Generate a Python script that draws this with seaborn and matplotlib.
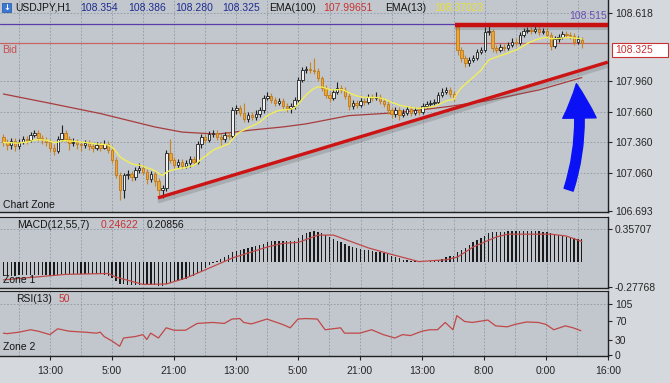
import matplotlib
matplotlib.use('Agg')
import matplotlib.pyplot as plt
import matplotlib.patches as mpatches
import seaborn as sns
import numpy as np
import pandas as pd

# USDJPY H1 candles
opens = [107.41, 107.36, 107.33, 107.37, 107.32, 107.36, 107.39, 107.38, 107.43, 107.45,
         107.40, 107.38, 107.36, 107.31, 107.28, 107.39, 107.45, 107.39, 107.35, 107.36,
         107.34, 107.33, 107.35, 107.32, 107.31, 107.33, 107.31, 107.34, 107.29, 107.19,
         107.04, 106.90, 107.04, 107.05, 107.02, 107.09, 107.11, 107.07, 107.00, 107.05,
         106.98, 106.90, 106.92, 107.26, 107.19, 107.14, 107.17, 107.13, 107.16, 107.20,
         107.17, 107.34, 107.41, 107.38, 107.44, 107.45, 107.41, 107.39, 107.43, 107.42,
         107.67, 107.69, 107.65, 107.59, 107.63, 107.61, 107.64, 107.67, 107.79, 107.81,
         107.77, 107.74, 107.76, 107.71, 107.69, 107.71, 107.77, 107.97, 108.06, 108.07,
         108.06, 108.05, 107.99, 107.89, 107.82, 107.79, 107.85, 107.89, 107.87, 107.81,
         107.71, 107.74, 107.72, 107.76, 107.75, 107.80, 107.79, 107.80, 107.76, 107.73,
         107.67, 107.64, 107.67, 107.63, 107.65, 107.68, 107.65, 107.67, 107.66, 107.71,
         107.73, 107.74, 107.75, 107.82, 107.85, 107.87, 107.83, 108.48, 108.26, 108.18,
         108.13, 108.16, 108.18, 108.24, 108.26, 108.43, 108.44, 108.28, 108.26, 108.29,
         108.28, 108.31, 108.34, 108.33, 108.40, 108.44, 108.45, 108.44, 108.46, 108.43,
         108.44, 108.40, 108.30, 108.36, 108.38, 108.41, 108.40, 108.39, 108.34, 108.354]
highs = [107.44, 107.39, 107.40, 107.40, 107.39, 107.42, 107.42, 107.46, 107.48, 107.48,
         107.43, 107.41, 107.39, 107.34, 107.42, 107.53, 107.48, 107.42, 107.40, 107.39,
         107.37, 107.38, 107.38, 107.35, 107.36, 107.36, 107.38, 107.37, 107.32, 107.22,
         107.07, 107.06, 107.09, 107.08, 107.12, 107.16, 107.14, 107.10, 107.08, 107.08,
         107.01, 106.95, 107.29, 107.39, 107.22, 107.20, 107.20, 107.19, 107.23, 107.23,
         107.37, 107.44, 107.44, 107.47, 107.48, 107.48, 107.44, 107.46, 107.46, 107.70,
         107.72, 107.72, 107.74, 107.66, 107.66, 107.67, 107.70, 107.82, 107.85, 107.84,
         107.80, 107.79, 107.79, 107.74, 107.74, 107.80, 108.00, 108.09, 108.10, 108.14,
         108.18, 108.08, 108.01, 107.92, 107.85, 107.88, 107.95, 107.92, 107.90, 107.84,
         107.77, 107.77, 107.79, 107.79, 107.83, 107.83, 107.85, 107.83, 107.79, 107.76,
         107.70, 107.70, 107.70, 107.68, 107.71, 107.71, 107.70, 107.70, 107.74, 107.76,
         107.77, 107.78, 107.85, 107.89, 107.90, 107.90, 107.86, 108.51, 108.29, 108.21,
         108.19, 108.21, 108.27, 108.29, 108.48, 108.49, 108.46, 108.31, 108.32, 108.32,
         108.34, 108.37, 108.37, 108.43, 108.47, 108.48, 108.48, 108.49, 108.49, 108.47,
         108.47, 108.43, 108.39, 108.41, 108.44, 108.44, 108.43, 108.42, 108.39, 108.386]
lows = [107.32, 107.29, 107.30, 107.28, 107.30, 107.34, 107.34, 107.36, 107.41, 107.37,
        107.34, 107.32, 107.27, 107.24, 107.26, 107.37, 107.36, 107.29, 107.32, 107.30,
        107.28, 107.31, 107.29, 107.27, 107.29, 107.28, 107.30, 107.26, 107.16, 107.01,
        106.80, 106.82, 107.00, 106.98, 106.99, 107.06, 107.04, 106.96, 106.97, 106.94,
        106.84, 106.82, 106.89, 107.16, 107.11, 107.11, 107.10, 107.11, 107.12, 107.14,
        107.15, 107.31, 107.35, 107.36, 107.41, 107.38, 107.33, 107.36, 107.39, 107.40,
        107.64, 107.62, 107.56, 107.56, 107.58, 107.58, 107.61, 107.65, 107.77, 107.74,
        107.71, 107.72, 107.68, 107.66, 107.65, 107.68, 107.75, 107.95, 108.03, 108.03,
        108.02, 107.96, 107.86, 107.79, 107.75, 107.77, 107.83, 107.84, 107.78, 107.67,
        107.68, 107.69, 107.70, 107.72, 107.73, 107.76, 107.77, 107.73, 107.70, 107.64,
        107.60, 107.61, 107.58, 107.61, 107.63, 107.62, 107.63, 107.63, 107.64, 107.69,
        107.71, 107.72, 107.73, 107.80, 107.83, 107.80, 107.76, 108.21, 108.14, 108.09,
        108.10, 108.14, 108.16, 108.22, 108.24, 108.40, 108.24, 108.23, 108.24, 108.25,
        108.26, 108.29, 108.30, 108.31, 108.38, 108.42, 108.41, 108.42, 108.40, 108.41,
        108.37, 108.26, 108.28, 108.34, 108.36, 108.37, 108.36, 108.31, 108.32, 108.280]
closes = [107.36, 107.33, 107.37, 107.32, 107.36, 107.39, 107.38, 107.43, 107.45, 107.40,
          107.38, 107.36, 107.31, 107.28, 107.39, 107.45, 107.39, 107.35, 107.36, 107.34,
          107.33, 107.35, 107.32, 107.31, 107.33, 107.31, 107.34, 107.29, 107.19, 107.04,
          106.90, 107.04, 107.05, 107.02, 107.09, 107.11, 107.07, 107.00, 107.05, 106.98,
          106.90, 106.92, 107.26, 107.19, 107.14, 107.17, 107.13, 107.16, 107.20, 107.17,
          107.34, 107.41, 107.38, 107.44, 107.45, 107.41, 107.39, 107.43, 107.42, 107.67,
          107.69, 107.65, 107.59, 107.63, 107.61, 107.64, 107.67, 107.79, 107.81, 107.77,
          107.74, 107.76, 107.71, 107.69, 107.71, 107.77, 107.97, 108.06, 108.07, 108.06,
          108.05, 107.99, 107.89, 107.82, 107.79, 107.85, 107.89, 107.87, 107.81, 107.71,
          107.74, 107.72, 107.76, 107.75, 107.80, 107.79, 107.80, 107.76, 107.73, 107.67,
          107.64, 107.67, 107.63, 107.65, 107.68, 107.65, 107.67, 107.66, 107.71, 107.73,
          107.74, 107.75, 107.82, 107.85, 107.87, 107.83, 107.80, 108.26, 108.18, 108.13,
          108.16, 108.18, 108.24, 108.26, 108.43, 108.44, 108.28, 108.26, 108.29, 108.28,
          108.31, 108.34, 108.33, 108.40, 108.44, 108.45, 108.44, 108.46, 108.43, 108.44,
          108.40, 108.30, 108.36, 108.38, 108.41, 108.40, 108.39, 108.34, 108.36, 108.325]

# EMA(100), read at a few bars (smooth line)
ema100_bars = [0, 12, 25, 39, 46, 55, 64, 72, 78, 89, 102, 115, 124, 138, 149]
ema100_vals = [107.83, 107.74, 107.64, 107.51, 107.46, 107.44, 107.48, 107.51, 107.54,
               107.62, 107.65, 107.71, 107.76, 107.87, 107.99]

# MACD(12,55,7) histogram per bar and signal line
macd_hist = [-0.16, -0.16, -0.16, -0.16, -0.15, -0.15, -0.15, -0.15, -0.15, -0.15,
             -0.15, -0.15, -0.16, -0.16, -0.15, -0.14, -0.14, -0.14, -0.14, -0.14,
             -0.14, -0.14, -0.14, -0.14, -0.14, -0.14, -0.15, -0.16, -0.18, -0.21,
             -0.24, -0.25, -0.26, -0.26, -0.26, -0.26, -0.26, -0.26, -0.26, -0.26,
             -0.27, -0.27, -0.25, -0.23, -0.22, -0.21, -0.20, -0.19, -0.17, -0.16,
             -0.13, -0.10, -0.07, -0.04, -0.02, 0.01, 0.03, 0.05, 0.07, 0.10,
             0.12, 0.13, 0.14, 0.15, 0.16, 0.17, 0.18, 0.19, 0.21, 0.22,
             0.22, 0.22, 0.22, 0.22, 0.22, 0.23, 0.26, 0.29, 0.31, 0.32,
             0.33, 0.32, 0.31, 0.29, 0.27, 0.25, 0.23, 0.21, 0.19, 0.17,
             0.16, 0.15, 0.14, 0.13, 0.13, 0.12, 0.11, 0.10, 0.09, 0.08,
             0.06, 0.05, 0.04, 0.02, 0.02, 0.01, 0.01, 0.00, 0.00, 0.00,
             0.01, 0.01, 0.02, 0.03, 0.05, 0.06, 0.06, 0.10, 0.13, 0.15,
             0.18, 0.21, 0.24, 0.26, 0.28, 0.31, 0.32, 0.32, 0.32, 0.32,
             0.33, 0.33, 0.33, 0.33, 0.33, 0.33, 0.33, 0.33, 0.33, 0.32,
             0.32, 0.31, 0.30, 0.29, 0.28, 0.27, 0.27, 0.26, 0.25, 0.25]
signal_bars = [0, 8, 16, 27, 29, 36, 42, 47, 52, 59, 68, 72, 76, 81, 85, 94, 99, 107,
               114, 117, 121, 127, 130, 141, 145, 149]
signal_vals = [-0.20, -0.17, -0.14, -0.13, -0.17, -0.25, -0.245, -0.18, -0.09, 0.04,
               0.16, 0.20, 0.21, 0.29, 0.29, 0.15, 0.09, 0.00, 0.02, 0.05, 0.16, 0.27,
               0.30, 0.30, 0.28, 0.22]

# RSI(13)
rsi_bars = [0, 1, 4, 7, 9, 12, 14, 17, 21, 24, 25, 26, 28, 30, 31, 34, 36, 37, 38, 39,
            40, 42, 44, 47, 50, 54, 57, 59, 61, 62, 64, 68, 72, 74, 76, 78, 81, 83, 87, 88,
            92, 95, 98, 101, 103, 105, 108, 110, 112, 114, 116, 117, 119, 121, 125, 127,
            130, 132, 135, 138, 140, 142, 145, 147, 149]
rsi_vals = [45, 44, 47, 52, 49, 42, 54, 49, 47, 45, 47, 38, 29, 18, 35, 38, 42, 32, 45, 40,
            35, 56, 51, 51, 65, 67, 65, 74, 75, 67, 64, 74, 63, 56, 74, 75, 74, 52, 56, 45,
            45, 52, 42, 35, 42, 40, 49, 52, 52, 67, 52, 81, 69, 67, 72, 60, 58, 63, 68, 67,
            63, 52, 60, 56, 50]

# drawn objects: trend line, resistance, blue arrow
trend_bars = [39.8, 155.7]
trend_prices = [106.82, 108.14]
resist_bars = [116.3, 155.7]
resist_prices = [108.50, 108.50]
arrow_from = (145.6, 106.90)
arrow_to = (147.6, 107.93)

time_ticks = [12, 28, 44, 60, 76, 92, 108, 124, 140, 156]
time_labels = ['13:00', '5:00', '21:00', '13:00', '5:00', '21:00', '13:00', '8:00', '0:00', '16:00']
price_ticks = [108.618, 107.960, 107.660, 107.360, 107.060, 106.693]
macd_ticks = [0.35707, -0.27768]
rsi_ticks = [105, 70, 30, 0]

sns.set_style('white')
plt.rcParams['font.family'] = ['Liberation Sans', 'DejaVu Sans']

W, H = 670, 383
BG = '#c1c7cd'
fig = plt.figure(figsize=(6.7, 3.83), dpi=100, facecolor='#d5d8dc')


def panel(top, bottom):
    a = fig.add_axes([0, 1 - bottom / H, 608 / W, (bottom - top) / H])
    a.set_facecolor(BG)
    for s in ['left', 'top']:
        a.spines[s].set_visible(False)
    for s in ['right', 'bottom']:
        a.spines[s].set_color('#202020')
        a.spines[s].set_linewidth(1.0)
    a.set_xlim(-0.88, 155.74)
    a.yaxis.tick_right()
    a.tick_params(axis='y', direction='out', length=3, width=0.8, labelsize=7.5, pad=2)
    a.tick_params(axis='x', bottom=False, labelbottom=False)
    for g in range(4, 156, 8):
        a.axvline(g, color='#8e98a4', lw=0.6, ls=(0, (2, 2)), zorder=0)
    return a


ax = panel(0, 212)
ax_macd = panel(217, 288)
ax_rsi = panel(291, 356)
for a in (ax_macd, ax_rsi):
    a.spines['top'].set_visible(True)
    a.spines['top'].set_color('#202020')

df = pd.DataFrame({'open': opens, 'high': highs, 'low': lows, 'close': closes})
df['bar'] = np.arange(len(df))
df['ema13'] = df['close'].ewm(span=13, adjust=False).mean()
up = df['close'] >= df['open']
body_low = df[['open', 'close']].min(axis=1)
body_h = (df['close'] - df['open']).abs().clip(lower=0.004)

# main chart
ax.set_ylim(106.683, 108.744)
for p in price_ticks[:-1]:
    ax.axhline(p, color='#8e98a4', lw=0.6, ls=(0, (2, 2)), zorder=0)
ax.axhline(108.515, color='#5a3ca8', lw=0.9, zorder=1)
ax.axhline(108.325, color='#c86464', lw=0.9, zorder=1)

sns.lineplot(x=ema100_bars, y=ema100_vals, ax=ax, color='#a83c3c', lw=0.9, zorder=2)

ax.vlines(df['bar'][up], df['low'][up], df['high'][up], color='#1e1e1e', lw=0.8, zorder=3)
ax.vlines(df['bar'][~up], df['low'][~up], df['high'][~up], color='#c88420', lw=0.8, zorder=3)
ax.bar(df['bar'][up], body_h[up], bottom=body_low[up], width=0.62, color='#f2f2f2',
       edgecolor='#1e1e1e', lw=0.6, zorder=4)
ax.bar(df['bar'][~up], body_h[~up], bottom=body_low[~up], width=0.62, color='#eca636',
       edgecolor='#c07818', lw=0.6, zorder=4)

sns.lineplot(data=df, x='bar', y='ema13', ax=ax, color='#f2ee58', lw=1.0, zorder=5)

ax.plot(trend_bars, [p - 0.035 for p in trend_prices], color='#606060', lw=3, alpha=0.25,
        solid_capstyle='butt', zorder=5)
ax.plot(trend_bars, trend_prices, color='#cc1414', lw=2.4, solid_capstyle='butt', zorder=6)
ax.plot(resist_bars, [p - 0.03 for p in resist_prices], color='#606060', lw=3, alpha=0.25,
        solid_capstyle='butt', zorder=5)
ax.plot(resist_bars, resist_prices, color='#c81010', lw=3.2, solid_capstyle='butt', zorder=6)

ax.annotate('', xy=arrow_to, xytext=arrow_from,
            arrowprops=dict(arrowstyle='simple,head_length=0.62,head_width=0.6,tail_width=0.17',
                            color='#0a12f5', mutation_scale=40, shrinkA=0, shrinkB=0,
                            connectionstyle='arc3,rad=0.12'), zorder=7)

ax.set_yticks(price_ticks)
ax.set_yticklabels(['%.3f' % p for p in price_ticks])
ax.set(xlabel='', ylabel='')

# MACD
ax_macd.set_ylim(-0.289, 0.488)
ax_macd.axhline(0.35707, color='#8e98a4', lw=0.6, ls=(0, (2, 2)), zorder=0)
ax_macd.bar(np.arange(len(macd_hist)), macd_hist, width=0.34, color='#1a1a1a',
            edgecolor='none', lw=0, zorder=3)
sns.lineplot(x=signal_bars, y=signal_vals, ax=ax_macd, color='#c04848', lw=0.9, zorder=4)
ax_macd.set_yticks(macd_ticks)
ax_macd.set_yticklabels(['0.35707', '-0.27768'])
ax_macd.set(xlabel='', ylabel='')

# RSI
ax_rsi.set_ylim(-2, 131.7)
ax_rsi.axhline(105, color='#8e98a4', lw=0.6, ls=(0, (2, 2)), zorder=0)
sns.lineplot(x=rsi_bars, y=rsi_vals, ax=ax_rsi, color='#c04848', lw=0.9, zorder=4)
ax_rsi.set_yticks(rsi_ticks)
ax_rsi.set_yticklabels([str(t) for t in rsi_ticks])
ax_rsi.set_xticks(time_ticks)
ax_rsi.set_xticklabels(time_labels)
ax_rsi.tick_params(axis='x', bottom=True, labelbottom=True, direction='out', length=3,
                   width=0.8, labelsize=7.5, pad=4)
ax_rsi.set(xlabel='', ylabel='')


def ftext(x, y, s, color='#151515', **kw):
    fig.text(x / W, 1 - y / H, s, color=color, fontsize=7.5, va='center', ha='left', **kw)


# header
fig.patches.append(mpatches.Rectangle((2 / W, 1 - 12 / H), 9 / W, 9 / H, transform=fig.transFigure,
                                      fc='#3a78d8', ec='#2050a0', lw=0.5))
fig.text(6.5 / W, 1 - 7.5 / H, '\u2193', color='white', fontsize=6, ha='center', va='center',
         family='DejaVu Sans', weight='bold')
ftext(15, 8, 'USDJPY,H1')
for s, x in [('108.354', 80), ('108.386', 128), ('108.280', 175), ('108.325', 222)]:
    ftext(x, 8, s, color='#1e2a90')
ftext(269, 8, 'EMA(100)')
ftext(323, 8, '107.99651', color='#c83232')
ftext(385, 8, 'EMA(13)')
ftext(434, 8, '108.37023', color='#e8e030')
ftext(569, 16, '108.515', color='#6a4cb4')
ftext(2, 50, 'Bid', color='#c85050')
ftext(3, 205, 'Chart Zone')
ftext(17, 225, 'MACD(12,55,7)')
ftext(101, 225, '0.24622', color='#c83232')
ftext(147, 225, '0.20856')
ftext(3, 280, 'Zone 1')
ftext(16, 299, 'RSI(13)')
ftext(59, 299, '50', color='#c83232')
ftext(3, 347, 'Zone 2')

# current price box
fig.patches.append(mpatches.Rectangle((612 / W, 1 - 57 / H), 56 / W, 14 / H, transform=fig.transFigure,
                                      fc='white', ec='#c83232', lw=0.8))
ftext(615, 50, '108.325', color='#c83232')

fig.savefig('out.png', dpi=100, facecolor=fig.get_facecolor())
